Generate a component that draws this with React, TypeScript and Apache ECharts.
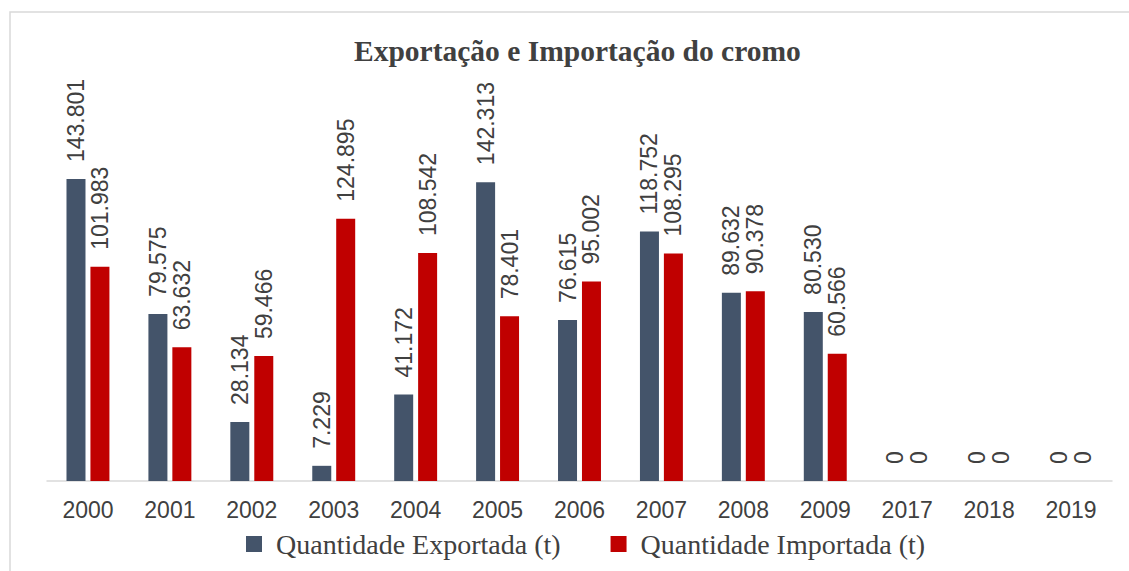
import React, { useEffect, useRef } from "react";
import * as echarts from "echarts";

const categories = ["2000", "2001", "2002", "2003", "2004", "2005", "2006", "2007", "2008", "2009", "2017", "2018", "2019"];
const exportada = [143801, 79575, 28134, 7229, 41172, 142313, 76615, 118752, 89632, 80530, 0, 0, 0];
const importada = [101983, 63632, 59466, 124895, 108542, 78401, 95002, 108295, 90378, 60566, 0, 0, 0];
const seriesNames = ["Quantidade Exportada (t)", "Quantidade Importada (t)"];
const titleText = "Exportação e Importação do cromo";

const fmt = (v: number) => String(v).replace(/\B(?=(\d{3})+(?!\d))/g, ".");

export default function App() {
  const ref = useRef<HTMLDivElement>(null);
  useEffect(() => {
    document.body.style.margin = "0";
    const chart = echarts.init(ref.current!, null, { renderer: "svg" });
    const label = {
      show: true,
      position: "top" as const,
      rotate: 90,
      align: "left" as const,
      verticalAlign: "middle" as const,
      distance: 17,
      color: "#404040",
      fontSize: 23,
      fontFamily: "Liberation Sans",
      formatter: (p: any) => fmt(p.value),
    };
    chart.setOption({
      animation: false,
      backgroundColor: "#ffffff",
      title: {
        text: titleText,
        left: 349,
        top: 31,
        textStyle: { fontFamily: "Liberation Serif", fontWeight: "bold", fontSize: 29.5, color: "#404040" },
      },
      legend: {
        data: seriesNames,
        bottom: 8,
        left: 241,
        itemWidth: 16,
        itemHeight: 16,
        itemGap: 50,
        icon: "rect",
        textStyle: { fontFamily: "Liberation Serif", fontSize: 28, color: "#404040", padding: [0, 0, 0, 9] },
      },
      graphic: [
        {
          type: "rect",
          shape: { x: 10, y: 12, width: 1200, height: 700 },
          style: { fill: "none", stroke: "#d9d9d9", lineWidth: 1.5 },
          silent: true,
          z: -1,
        },
      ],
      grid: { left: 47, right: 17, top: 145, bottom: 90 },
      xAxis: {
        type: "category",
        data: categories,
        axisLine: { lineStyle: { color: "#d9d9d9", width: 1.5 } },
        axisTick: { show: false },
        axisLabel: { color: "#404040", fontSize: 23, fontFamily: "Liberation Sans", margin: 17 },
      },
      yAxis: {
        type: "value",
        min: 0,
        max: 160000,
        show: false,
        splitLine: { show: false },
      },
      series: [
        {
          name: seriesNames[0],
          type: "bar",
          data: exportada,
          barWidth: 19,
          barGap: "26%",
          itemStyle: { color: "#44546A" },
          label,
        },
        {
          name: seriesNames[1],
          type: "bar",
          data: importada,
          barWidth: 19,
          barGap: "26%",
          itemStyle: { color: "#C00000" },
          label,
        },
      ],
    });
    return () => chart.dispose();
  }, []);
  return <div ref={ref} style={{ width: 1129, height: 571 }} />;
}
